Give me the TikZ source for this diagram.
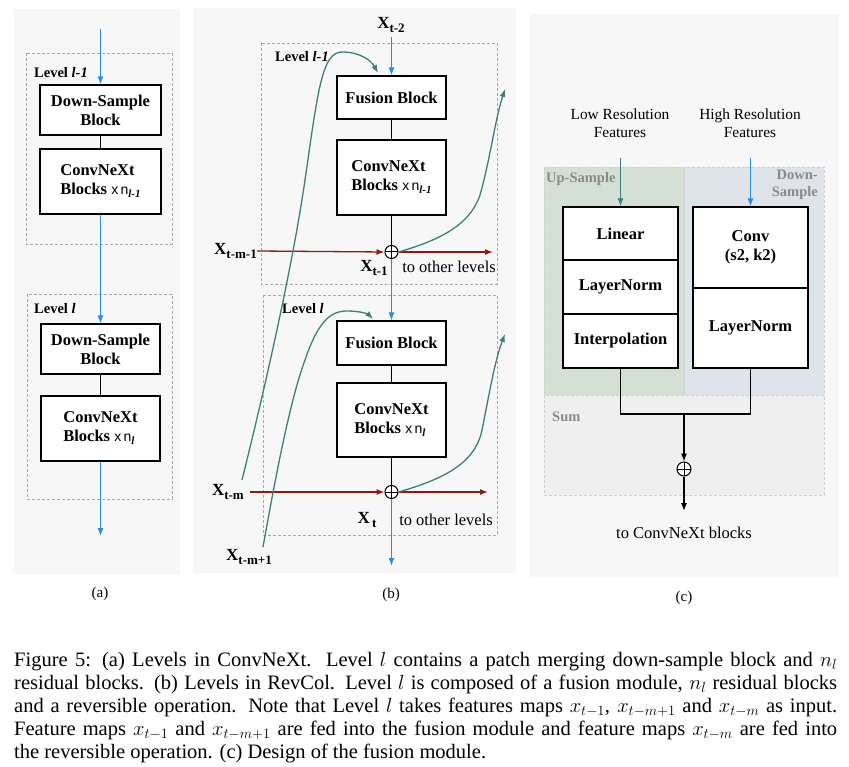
\RequirePackage{fix-cm}
\documentclass[tikz,border=0pt]{standalone}
\usepackage{fontspec}
\setmainfont{Liberation Serif}
\setsansfont{Liberation Sans}
\usetikzlibrary{arrows.meta}
\definecolor{bgpanel}{HTML}{F7F7F7}
\definecolor{bluear}{HTML}{2A8CDB}
\definecolor{tealar}{HTML}{3E7F7B}
\definecolor{redar}{HTML}{8B1C13}
\definecolor{greenreg}{HTML}{D5E0D5}
\definecolor{bluereg}{HTML}{DFE3EA}
\definecolor{sumreg}{HTML}{EFEFEF}
\definecolor{dashgray}{HTML}{A8A8A8}
\definecolor{regdash}{HTML}{CFCFCF}
\definecolor{lblgray}{HTML}{8A8A8A}
\newcommand{\fsz}[2]{\fontsize{#1}{#2}\selectfont}
\newcommand{\xn}[1]{{\fsz{14}{16}\sffamily\mdseries x\,n}\raisebox{-3pt}{\fsz{11}{12}\bfseries\itshape #1}}
\newcommand{\Xsub}[1]{{\fsz{17}{20}\bfseries X}\raisebox{-3.5pt}{\fsz{13}{14}\bfseries #1}}
\begin{document}
\begin{tikzpicture}[x=1pt,y=-1pt,
  box/.style={draw, line width=1.1pt, fill=white, inner sep=0pt, align=center, font=\fsz{16.5}{19}\bfseries},
  lvl/.style={draw=dashgray, line width=0.8pt, dash pattern=on 3pt off 2pt},
  reg/.style={draw=regdash, line width=0.8pt, dash pattern=on 3pt off 2pt},
  lvllabel/.style={anchor=west, inner sep=0pt, font=\fsz{14.5}{17}\bfseries},
  glabel/.style={inner sep=0pt, text=lblgray, font=\fsz{14.5}{17}\bfseries},
  plain/.style={line width=1.1pt},
  bluearrow/.style={draw=bluear, line width=1.3pt, -{Latex[length=8pt,width=6pt]}},
  tealarrow/.style={draw=tealar, line width=1.3pt, -{Latex[length=8pt,width=6pt]}},
  redarrow/.style={draw=redar, line width=1.3pt, -{Latex[length=8pt,width=6pt]}},
  blackarrow/.style={line width=1.1pt, -{Latex[length=8pt,width=6pt]}},
  oplus/.style={circle, draw, line width=1pt, fill=white, minimum size=#1, inner sep=0pt,
    path picture={\draw[line width=1pt] (path picture bounding box.north) -- (path picture bounding box.south)
      (path picture bounding box.west) -- (path picture bounding box.east);}},
  txt/.style={inner sep=0pt, font=\fsz{16.5}{19}},
  sublabel/.style={inner sep=0pt, font=\fsz{15}{17}}
]
\useasboundingbox (0,0) rectangle (849,767);
\fill[white] (0,0) rectangle (849,767);
% panels
\fill[bgpanel] (14,9) rectangle (180,574);
\fill[bgpanel] (193,8) rectangle (516,573);
\fill[bgpanel] (530,14) rectangle (839,577);

% ---------------- panel (a)
\draw[lvl] (26,53) rectangle (172,244);
\draw[lvl] (27,294) rectangle (172,499);
\node[lvllabel] at (34,73) {Level \textit{l-1}};
\node[lvllabel] at (34,309) {Level \textit{l}};
\node[box, minimum width=121pt, minimum height=50pt] (ds1) at (100.5,110) {Down-Sample\\Block};
\node[box, align=left, minimum width=121pt, minimum height=65pt] (cn1) at (100.5,181.5) {ConvNeXt\\Blocks \xn{l-1}};
\node[box, minimum width=119pt, minimum height=50pt] (ds2) at (100.5,349) {Down-Sample\\Block};
\node[box, align=left, minimum width=119pt, minimum height=65pt] (cn2) at (100.5,428.5) {ConvNeXt\\Blocks \xn{l}};
\coordinate (a0) at (100.5,29);
\coordinate (a1) at (100.5,536);
\draw[bluearrow] (a0) -- (ds1.north);
\draw[plain] (ds1.south) -- (cn1.north);
\draw[bluearrow] (cn1.south) -- (ds2.north);
\draw[plain] (ds2.south) -- (cn2.north);
\draw[bluearrow] (cn2.south) -- (a1);
\node[sublabel] at (100,594) {(a)};

% ---------------- panel (b)
\draw[lvl] (261,43) rectangle (497,284);
\draw[lvl] (263,295) rectangle (497,535);
\node[lvllabel] at (275,57) {Level \textit{l-1}};
\node[lvllabel] at (282,309) {Level \textit{l}};
\node[box, minimum width=109pt, minimum height=43pt] (fb1) at (391.5,97.5) {Fusion Block};
\node[box, align=left, minimum width=109pt, minimum height=75pt] (cb1) at (391.5,177.5) {ConvNeXt\\Blocks \xn{l-1}};
\node[oplus=13pt] (p1) at (391.5,252) {};
\node[box, minimum width=109pt, minimum height=44pt] (fb2) at (391.5,343) {Fusion Block};
\node[box, align=left, minimum width=109pt, minimum height=74pt] (cb2) at (391.5,420) {ConvNeXt\\Blocks \xn{l}};
\node[oplus=13pt] (p2) at (391.5,492) {};
\node[inner sep=0pt] (xt2) at (391,25) {\Xsub{t-2}};
\coordinate (b1) at (391.5,566);
\draw[bluearrow] (391.5,37) -- (fb1.north);
\draw[plain] (fb1.south) -- (cb1.north);
\draw[plain] (cb1.south) -- (p1.north);
\draw[bluearrow] (p1.south) -- (fb2.north);
\draw[plain] (fb2.south) -- (cb2.north);
\draw[plain] (cb2.south) -- (p2.north);
\draw[bluearrow] (p2.south) -- (b1);
% labels
\node[inner sep=0pt, anchor=east] (xtm1) at (257,251) {\Xsub{t-m-1}};
\node[inner sep=0pt, anchor=east] (xtm) at (244,492) {\Xsub{t-m}};
\node[inner sep=0pt, anchor=west] (xtmp1) at (226,557) {\Xsub{t-m+1}};
\node[inner sep=0pt] (xt1) at (374,268) {\Xsub{t-1}};
\node[inner sep=0pt] (xt) at (367,520) {\Xsub{\,t}};
\node[txt] at (449,267) {to other levels};
\node[txt] at (446,520) {to other levels};
\coordinate (r1) at (493,252);
\coordinate (r2) at (488,492);
\draw[redarrow] (xtm1.east) -- (p1.west);
\draw[redarrow] (p1.east) -- (r1);
\draw[redarrow] (250,492) -- (p2.west);
\draw[redarrow] (p2.east) -- (r2);
% teal curves
\coordinate (c1s) at (242,480);
\coordinate (c1e) at (378,73);
\draw[tealarrow] (c1s) .. controls (262,400) and (292,270) .. (305,180)
  .. controls (318,90) and (322,52) .. (342,52) .. controls (362,52) and (372,62) .. (c1e);
\coordinate (c2s) at (263,547);
\coordinate (c2e) at (373,319);
\draw[tealarrow] (c2s) .. controls (275,480) and (290,400) .. (305,360)
  .. controls (318,322) and (330,311) .. (347,311) .. controls (360,311) and (368,314) .. (c2e);
\coordinate (c3e) at (505,89);
\draw[tealarrow] (p1.east) .. controls (440,240) and (470,225) .. (480,195)
  .. controls (490,160) and (495,120) .. (c3e);
\coordinate (c4e) at (505,334);
\draw[tealarrow] (p2.east) .. controls (440,480) and (475,465) .. (482,430)
  .. controls (490,390) and (495,360) .. (c4e);
\node[sublabel] at (391,595) {(b)};

% ---------------- panel (c)
\fill[greenreg] (544,167) rectangle (684,395);
\fill[bluereg] (684,167) rectangle (824,395);
\fill[sumreg] (544,395) rectangle (824,495);
\draw[reg] (544,167) rectangle (684,395);
\draw[reg] (684,167) rectangle (824,395);
\draw[reg] (544,395) rectangle (824,495);
\node[glabel, anchor=west] at (546,179) {Up-Sample};
\node[glabel, anchor=north east, align=right, font=\fsz{14.5}{17}\bfseries] at (818,170) {Down-\\Sample};
\node[glabel, anchor=west] at (552,417) {Sum};
\node[inner sep=0pt, align=center, font=\fsz{15.4}{18}] at (620,123) {Low Resolution\\Features};
\node[inner sep=0pt, align=center, font=\fsz{15.4}{18}] at (750,123) {High Resolution\\Features};
\node[box, minimum width=115pt, minimum height=53pt] (lin) at (620.5,233.5) {Linear};
\node[box, minimum width=115pt, minimum height=54pt] (ln1) at (620.5,287) {LayerNorm};
\node[box, minimum width=115pt, minimum height=54pt] (itp) at (620.5,341) {Interpolation};
\node[box, minimum width=115pt, minimum height=81pt] (conv) at (750.5,247.5) {Conv\\(s2, k2)};
\node[box, minimum width=115pt, minimum height=80pt] (ln2) at (750.5,328) {LayerNorm};
\coordinate (lr) at (620.5,158);
\coordinate (hr) at (750.5,158);
\draw[tealarrow] (lr) -- (lin.north);
\draw[bluearrow] (hr) -- (conv.north);
\coordinate (j) at (684,414);
\node[oplus=14pt] (p3) at (684,469) {};
\coordinate (cout) at (684,511);
\draw[plain] (itp.south) |- (j) -| (ln2.south);
\draw[blackarrow] (j) -- (p3.north);
\draw[blackarrow] (p3.south) -- (cout);
\node[txt] at (684,533) {to ConvNeXt blocks};
\node[sublabel] at (684,598) {(c)};

% ---------------- caption
\node[anchor=base west, inner sep=0pt] at (14,666) {\parbox[t]{823pt}{\fsz{20.5}{23}%
Figure 5: (a) Levels in ConvNeXt.\ \ Level $l$ contains a patch merging down-sample block and $n_l$\linebreak
residual blocks. (b) Levels in RevCol. Level $l$ is composed of a fusion module, $n_l$ residual blocks\linebreak
and a reversible operation. Note that Level $l$ takes features maps $x_{t-1}$, $x_{t-m+1}$ and $x_{t-m}$ as input.\linebreak
Feature maps $x_{t-1}$ and $x_{t-m+1}$ are fed into the fusion module and feature maps $x_{t-m}$ are fed into\linebreak
the reversible operation. (c) Design of the fusion module.}};
\end{tikzpicture}
\end{document}
